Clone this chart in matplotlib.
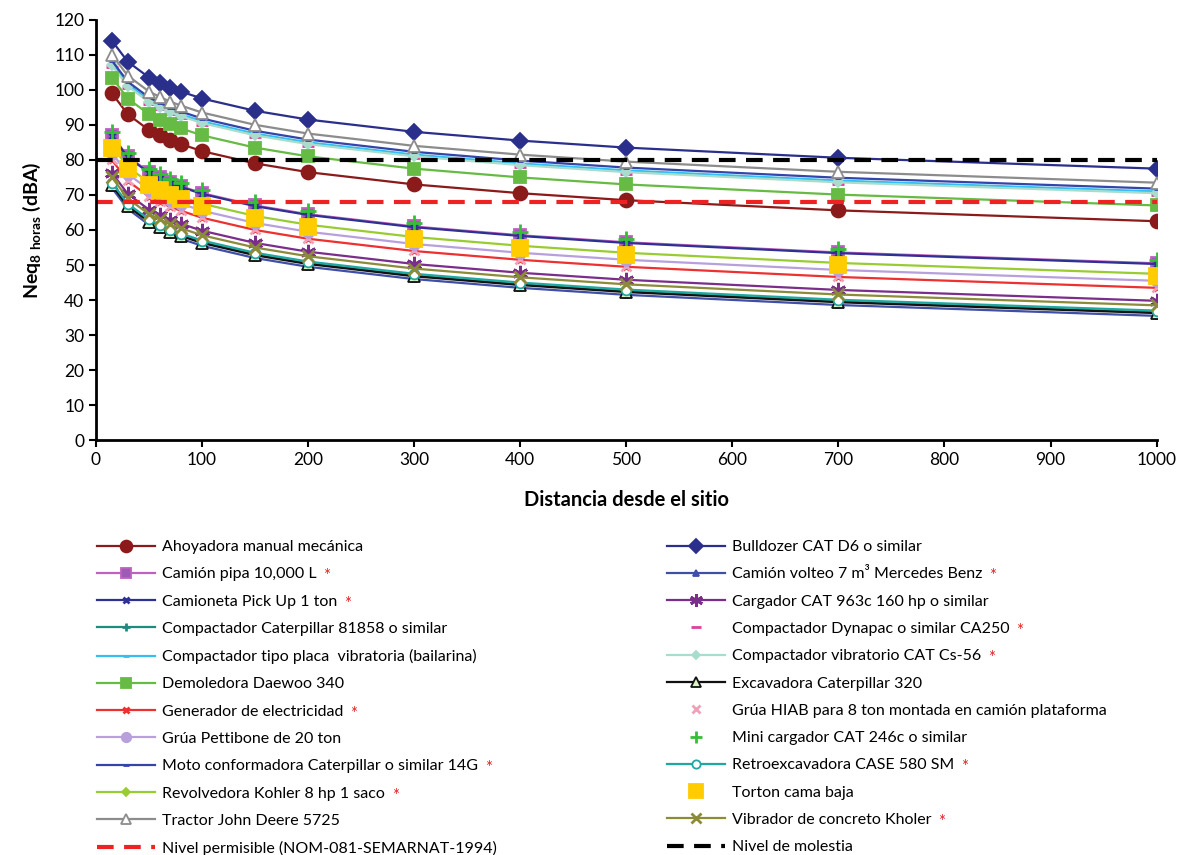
import matplotlib
matplotlib.use("Agg")
import matplotlib.pyplot as plt

plt.rcParams['font.family'] = ['Lato', 'DejaVu Sans']
plt.rcParams['mathtext.fontset'] = 'custom'
plt.rcParams['mathtext.rm'] = 'Lato'
plt.rcParams['mathtext.bf'] = 'Lato:weight=bold'

# distancias (m)
distancia = [15, 30, 50, 60, 70, 80, 100, 150, 200, 300, 400, 500, 700, 1000]

# niveles (dBA), en el orden de la serie original
ahoyadora = [99, 93.0, 88.5, 87.0, 85.6, 84.5, 82.5, 79.0, 76.5, 73.0, 70.5, 68.5, 65.6, 62.5]
bulldozer = [114, 108.0, 103.5, 102.0, 100.6, 99.5, 97.5, 94.0, 91.5, 88.0, 85.5, 83.5, 80.6, 77.5]
camion_pipa = [87, 81.0, 76.5, 75.0, 73.6, 72.5, 70.5, 67.0, 64.5, 61.0, 58.5, 56.5, 53.6, 50.5]
camion_volteo = [72, 66.0, 61.5, 60.0, 58.6, 57.5, 55.5, 52.0, 49.5, 46.0, 43.5, 41.5, 38.6, 35.5]
camioneta = [86.8, 80.8, 76.3, 74.8, 73.4, 72.3, 70.3, 66.8, 64.3, 60.8, 58.3, 56.3, 53.4, 50.3]
cargador = [76.3, 70.3, 65.8, 64.3, 62.9, 61.8, 59.8, 56.3, 53.8, 50.3, 47.8, 45.8, 42.9, 39.8]
comp_caterpillar = [73, 67.0, 62.5, 61.0, 59.6, 58.5, 56.5, 53.0, 50.5, 47.0, 44.5, 42.5, 39.6, 36.5]
comp_dynapac = [106.5, 100.5, 96.0, 94.5, 93.1, 92.0, 90.0, 86.5, 84.0, 80.5, 78.0, 76.0, 73.1, 70.0]
comp_placa = [107.5, 101.5, 97.0, 95.5, 94.1, 93.0, 91.0, 87.5, 85.0, 81.5, 79.0, 77.0, 74.1, 71.0]
comp_vibratorio = [107, 101.0, 96.5, 95.0, 93.6, 92.5, 90.5, 87.0, 84.5, 81.0, 78.5, 76.5, 73.6, 70.5]
demoledora = [103.5, 97.5, 93.0, 91.5, 90.1, 89.0, 87.0, 83.5, 81.0, 77.5, 75.0, 73.0, 70.1, 67.0]
excavadora = [72.8, 66.8, 62.3, 60.8, 59.4, 58.3, 56.3, 52.8, 50.3, 46.8, 44.3, 42.3, 39.4, 36.3]
generador = [80, 74.0, 69.5, 68.0, 66.6, 65.5, 63.5, 60.0, 57.5, 54.0, 51.5, 49.5, 46.6, 43.5]
grua_hiab = [80.3, 74.3, 69.8, 68.3, 66.9, 65.8, 63.8, 60.3, 57.8, 54.3, 51.8, 49.8, 46.9, 43.8]
grua_pettibone = [82, 76.0, 71.5, 70.0, 68.6, 67.5, 65.5, 62.0, 59.5, 56.0, 53.5, 51.5, 48.6, 45.5]
mini_cargador = [88, 82.0, 77.5, 76.0, 74.6, 73.5, 71.5, 68.0, 65.5, 62.0, 59.5, 57.5, 54.6, 51.5]
moto_conf = [108.3, 102.3, 97.8, 96.3, 94.9, 93.8, 91.8, 88.3, 85.8, 82.3, 79.8, 77.8, 74.9, 71.8]
retroexcavadora = [73.5, 67.5, 63.0, 61.5, 60.1, 59.0, 57.0, 53.5, 51.0, 47.5, 45.0, 43.0, 40.1, 37.0]
revolvedora = [84, 78.0, 73.5, 72.0, 70.6, 69.5, 67.5, 64.0, 61.5, 58.0, 55.5, 53.5, 50.6, 47.5]
torton = [83.3, 77.3, 72.8, 71.3, 69.9, 68.8, 66.8, 63.3, 60.8, 57.3, 54.8, 52.8, 49.9, 46.8]
tractor = [110, 104.0, 99.5, 98.0, 96.6, 95.5, 93.5, 90.0, 87.5, 84.0, 81.5, 79.5, 76.6, 73.5]
vibrador = [75, 69.0, 64.5, 63.0, 61.6, 60.5, 58.5, 55.0, 52.5, 49.0, 46.5, 44.5, 41.6, 38.5]

nivel_permisible = 68
nivel_molestia = 80

# (etiqueta, datos, color, marcador, tamaño, relleno, con linea, asterisco rojo)
series = [
    ("Ahoyadora manual mecánica", ahoyadora, "#8B1A1A", "o", 10, None, True, False),
    ("Bulldozer CAT D6 o similar", bulldozer, "#2B2F8C", "D", 8, None, True, False),
    ("Camión pipa 10,000 L", camion_pipa, "#C060C0", "s", 9, "#9A5CB4", True, True),
    ("Camión volteo 7 m³ Mercedes Benz", camion_volteo, "#3F4FA8", "^", 5, None, True, True),
    ("Camioneta Pick Up 1 ton", camioneta, "#2E3192", "x", 5, None, True, True),
    ("Cargador CAT 963c 160 hp o similar", cargador, "#7B2D8B", (6, 2, 0), 11, None, True, False),
    ("Compactador Caterpillar 81858 o similar", comp_caterpillar, "#1F8A80", "+", 6, None, True, False),
    ("Compactador Dynapac o similar CA250", comp_dynapac, "#E0409A", "_", 8, None, False, True),
    ("Compactador tipo placa  vibratoria (bailarina)", comp_placa, "#33C0F0", "_", 5, None, True, False),
    ("Compactador vibratorio CAT Cs-56", comp_vibratorio, "#A8DCCC", "D", 5, None, True, True),
    ("Demoledora Daewoo 340", demoledora, "#66BB44", "s", 9, None, True, False),
    ("Excavadora Caterpillar 320", excavadora, "#111111", "^", 8, "#D8F5C8", True, False),
    ("Generador de electricidad", generador, "#EE3030", "x", 5, None, True, True),
    ("Grúa HIAB para 8 ton montada en camión plataforma", grua_hiab, "#F0A0B8", "x", 7, None, False, False),
    ("Grúa Pettibone de 20 ton", grua_pettibone, "#B8A0DC", "o", 8, None, True, False),
    ("Mini cargador CAT 246c o similar", mini_cargador, "#33C033", "+", 11, None, False, False),
    ("Moto conformadora Caterpillar o similar 14G", moto_conf, "#3344AA", "_", 5, None, True, True),
    ("Retroexcavadora CASE 580 SM", retroexcavadora, "#20A8A0", "o", 7, "white", True, True),
    ("Revolvedora Kohler 8 hp 1 saco", revolvedora, "#99CC33", "D", 5, None, True, True),
    ("Torton cama baja", torton, "#FFCC00", "s", 12, None, False, False),
    ("Tractor John Deere 5725", tractor, "#8C8C8C", "^", 9, "white", True, False),
    ("Vibrador de concreto Kholer", vibrador, "#8B8B3A", "x", 9, None, True, True),
]

fig = plt.figure(figsize=(11.85, 8.55), dpi=100)
ax = fig.add_axes([0.081, 0.485, 0.895, 0.492])

handles = []
for lab, y, col, mk, ms, mfc, line, star in series:
    if mfc is None:
        mfc = col
    mew = 2 if mk in ("x", "+", "_", (6, 2, 0)) else 1.3
    h, = ax.plot(distancia, y, color=col, lw=1.6 if line else 0,
                 linestyle='-' if line else 'None', marker=mk, ms=ms,
                 mfc=mfc, mec=col, mew=mew, label=lab)
    handles.append(h)

h_perm = ax.axhline(nivel_permisible, color="#EE2222", lw=3, dashes=(4, 2.5),
                    label="Nivel permisible (NOM-081-SEMARNAT-1994)")
h_mol = ax.axhline(nivel_molestia, color="black", lw=3, dashes=(4, 2.5),
                   label="Nivel de molestia")
handles += [h_perm, h_mol]

ax.set_xlim(0, 1000)
ax.set_ylim(0, 120)
ax.set_xticks(range(0, 1001, 100))
ax.set_yticks(range(0, 121, 10))
ax.tick_params(labelsize=12.5, length=5, width=1.5, direction='out')
ax.spines['top'].set_visible(False)
ax.spines['right'].set_visible(False)
ax.spines['left'].set_linewidth(2)
ax.spines['bottom'].set_linewidth(2)
ax.set_xlabel("Distancia desde el sitio", fontsize=14.5, fontweight='bold', labelpad=16)
ax.set_ylabel(r"Neq$_{\mathbf{8\ horas}}$ (dBA)", fontsize=14, fontweight='bold', labelpad=8)

left_h = handles[0::2]
right_h = handles[1::2]
stars = set(s[0] for s in series if s[7])

legs = []
for hs, x0 in ((left_h, 97 / 1185), (right_h, 667 / 1185)):
    leg = fig.legend(handles=hs, loc='upper left', bbox_to_anchor=(x0, 1 - 540 / 855),
                     frameon=False, fontsize=11.5, handlelength=3.6, handletextpad=0.45,
                     borderpad=0, borderaxespad=0, labelspacing=0.82, markerscale=0.85)
    legs.append(leg)

fig.canvas.draw()
r = fig.canvas.get_renderer()
W, H = fig.bbox.width, fig.bbox.height
for leg in legs:
    for t in leg.get_texts():
        if t.get_text() in stars:
            bb = t.get_window_extent(r)
            fig.text((bb.x1 + 7) / W, (bb.y1 - 1) / H, "*", color="#E02020",
                     fontsize=12, va='top', ha='left')

fig.savefig("out.png", dpi=100)
